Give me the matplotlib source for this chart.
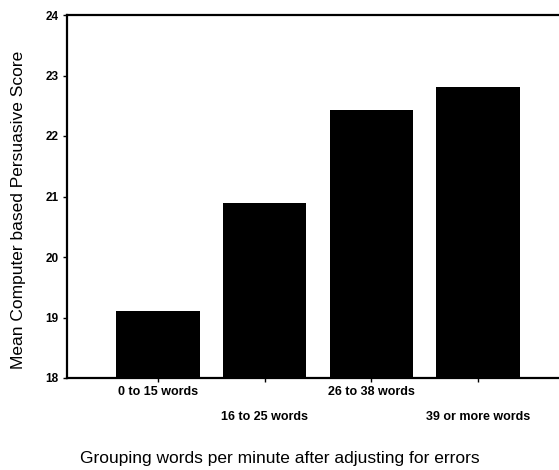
import matplotlib
matplotlib.use("Agg")
import matplotlib.pyplot as plt

categories = ["0 to 15 words", "16 to 25 words", "26 to 38 words", "39 or more words"]
scores = [19.11, 20.89, 22.43, 22.81]
yticks = [18, 19, 20, 21, 22, 23, 24]

plt.rcParams["font.family"] = ["Liberation Sans", "DejaVu Sans"]

fig = plt.figure(figsize=(5.59, 4.70), dpi=100)
# axes extend slightly past the right edge of the canvas
ax = fig.add_axes([67 / 559, 1 - 378 / 470, (569 - 67) / 559, (378 - 15) / 470])

x = list(range(len(categories)))
ax.bar(x, scores, width=0.78, color="black", bottom=0)
ax.set_ylim(18, 24)
ax.set_xlim(-0.853, 3.853)
ax.set_yticks(yticks)
ax.set_yticklabels([str(t) for t in yticks], fontsize=8.5, fontweight="bold")
ax.set_xticks(x)
ax.set_xticklabels([])

for spine in ["left", "bottom", "top"]:
    ax.spines[spine].set_linewidth(1.6)
ax.spines["right"].set_visible(False)
ax.tick_params(axis="both", direction="out", length=3, width=1, pad=3)

# staggered category labels
for i, lab in enumerate(categories):
    yoff = -14 if i % 2 == 0 else -39
    ax.annotate(lab, xy=(i, 18), xycoords="data", xytext=(0, yoff),
                textcoords="offset pixels", ha="center", va="center",
                fontsize=9, fontweight="bold", annotation_clip=False)

fig.text(280 / 559, 1 - 459 / 470, "Grouping words per minute after adjusting for errors",
         ha="center", va="center", fontsize=12.5)
fig.text(19 / 559, 1 - 210 / 470, "Mean Computer based Persuasive Score",
         ha="center", va="center", rotation=90, fontsize=12.5)

fig.savefig("out.png", dpi=100)
